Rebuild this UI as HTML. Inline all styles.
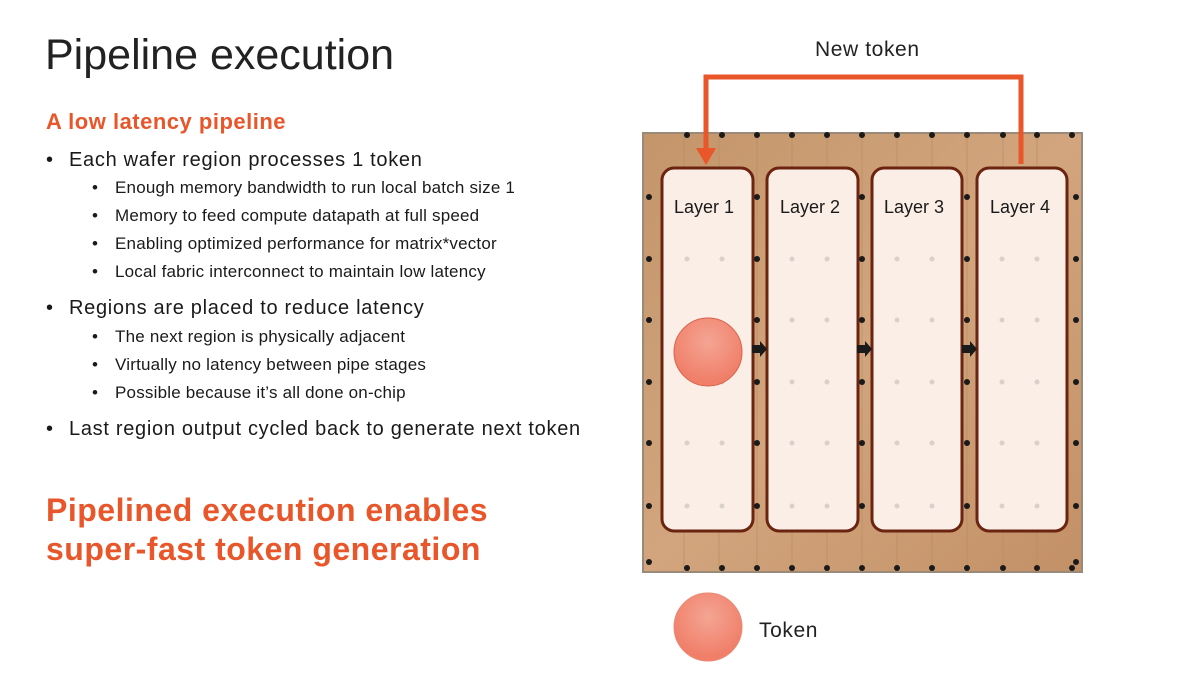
<!DOCTYPE html>
<html><head><meta charset="utf-8"><style>
body{margin:0;width:1200px;height:675px;background:#fff;position:relative;overflow:hidden;font-family:"Liberation Sans",sans-serif;color:#1a1a1a}
.t{position:absolute;white-space:nowrap;line-height:1}
.b1{font-size:20px;left:46px;letter-spacing:0.7px}
.b1 span,.b2 span{position:absolute;left:0}
.b1 b{font-weight:normal;margin-left:23px}
.b2 b{font-weight:normal;margin-left:23px}
.b2{font-size:17px;left:92px;letter-spacing:0.2px}
</style></head><body>
<div class="t" style="left:45px;top:34px;font-size:43px;color:#222">Pipeline execution</div>
<div class="t" style="left:46px;top:111px;font-size:22px;font-weight:bold;color:#e8562a;letter-spacing:0.5px">A low latency pipeline</div>
<div class="t b1" style="top:150px"><span>•</span><b>Each wafer region processes 1 token</b></div>
<div class="t b2" style="top:179px"><span>•</span><b>Enough memory bandwidth to run local batch size 1</b></div>
<div class="t b2" style="top:207px"><span>•</span><b>Memory to feed compute datapath at full speed</b></div>
<div class="t b2" style="top:235px"><span>•</span><b>Enabling optimized performance for matrix*vector</b></div>
<div class="t b2" style="top:263px"><span>•</span><b>Local fabric interconnect to maintain low latency</b></div>
<div class="t b1" style="top:298px"><span>•</span><b>Regions are placed to reduce latency</b></div>
<div class="t b2" style="top:328px"><span>•</span><b>The next region is physically adjacent</b></div>
<div class="t b2" style="top:356px"><span>•</span><b>Virtually no latency between pipe stages</b></div>
<div class="t b2" style="top:384px"><span>•</span><b>Possible because it’s all done on-chip</b></div>
<div class="t b1" style="top:419px"><span>•</span><b>Last region output cycled back to generate next token</b></div>
<div class="t" style="left:46px;top:491px;font-size:32px;font-weight:bold;color:#e8562a;line-height:39px;letter-spacing:0.5px">Pipelined execution enables<br>super-fast token generation</div>
<div class="t" style="left:815px;top:39px;font-size:21px;color:#222;letter-spacing:0.6px">New token</div>
<div class="t" style="left:759px;top:620px;font-size:21px;color:#222;letter-spacing:0.6px">Token</div>
<svg width="1200" height="675" style="position:absolute;left:0;top:0">
<defs><linearGradient id="w" x1="0" y1="0" x2="1" y2="1"><stop offset="0" stop-color="#c4956a"/><stop offset="0.5" stop-color="#d2a57e"/><stop offset="1" stop-color="#c39066"/></linearGradient>
<radialGradient id="tk" cx="0.5" cy="0.35" r="0.6"><stop offset="0" stop-color="#f4a594"/><stop offset="1" stop-color="#f07e68"/></radialGradient></defs>
<rect x="643" y="133" width="439" height="439" fill="url(#w)" stroke="#9a8a7a" stroke-width="2"/>
<g stroke="#b58a5e" stroke-width="1" opacity="0.6">
<line x1="684" y1="133" x2="684" y2="572"/><line x1="719" y1="133" x2="719" y2="572"/><line x1="757" y1="133" x2="757" y2="572"/><line x1="792" y1="133" x2="792" y2="572"/><line x1="827" y1="133" x2="827" y2="572"/><line x1="862" y1="133" x2="862" y2="572"/><line x1="897" y1="133" x2="897" y2="572"/><line x1="932" y1="133" x2="932" y2="572"/><line x1="967" y1="133" x2="967" y2="572"/><line x1="1003" y1="133" x2="1003" y2="572"/><line x1="1037" y1="133" x2="1037" y2="572"/>
</g>
<g stroke="#6b2410" stroke-width="3" fill="#fbeee6">
<rect x="662" y="168" width="91" height="363" rx="12"/>
<rect x="767" y="168" width="91" height="363" rx="12"/>
<rect x="872" y="168" width="90" height="363" rx="12"/>
<rect x="977" y="168" width="90" height="363" rx="12"/>
</g>
<g fill="#d8d0ca">
<circle cx="687" cy="259" r="2.5"/><circle cx="722" cy="259" r="2.5"/><circle cx="792" cy="259" r="2.5"/><circle cx="827" cy="259" r="2.5"/><circle cx="897" cy="259" r="2.5"/><circle cx="932" cy="259" r="2.5"/><circle cx="1002" cy="259" r="2.5"/><circle cx="1037" cy="259" r="2.5"/>
<circle cx="792" cy="320" r="2.5"/><circle cx="827" cy="320" r="2.5"/><circle cx="897" cy="320" r="2.5"/><circle cx="932" cy="320" r="2.5"/><circle cx="1002" cy="320" r="2.5"/><circle cx="1037" cy="320" r="2.5"/>
<circle cx="722" cy="382" r="2.5"/><circle cx="792" cy="382" r="2.5"/><circle cx="827" cy="382" r="2.5"/><circle cx="897" cy="382" r="2.5"/><circle cx="932" cy="382" r="2.5"/><circle cx="1002" cy="382" r="2.5"/><circle cx="1037" cy="382" r="2.5"/>
<circle cx="687" cy="443" r="2.5"/><circle cx="722" cy="443" r="2.5"/><circle cx="792" cy="443" r="2.5"/><circle cx="827" cy="443" r="2.5"/><circle cx="897" cy="443" r="2.5"/><circle cx="932" cy="443" r="2.5"/><circle cx="1002" cy="443" r="2.5"/><circle cx="1037" cy="443" r="2.5"/>
<circle cx="687" cy="506" r="2.5"/><circle cx="722" cy="506" r="2.5"/><circle cx="792" cy="506" r="2.5"/><circle cx="827" cy="506" r="2.5"/><circle cx="897" cy="506" r="2.5"/><circle cx="932" cy="506" r="2.5"/><circle cx="1002" cy="506" r="2.5"/><circle cx="1037" cy="506" r="2.5"/>
</g>
<g fill="#1a1a1a">
<circle cx="687" cy="135" r="3"/><circle cx="722" cy="135" r="3"/><circle cx="757" cy="135" r="3"/><circle cx="792" cy="135" r="3"/><circle cx="827" cy="135" r="3"/><circle cx="862" cy="135" r="3"/><circle cx="897" cy="135" r="3"/><circle cx="932" cy="135" r="3"/><circle cx="967" cy="135" r="3"/><circle cx="1003" cy="135" r="3"/><circle cx="1037" cy="135" r="3"/><circle cx="1072" cy="135" r="3"/>
<circle cx="687" cy="568" r="3"/><circle cx="722" cy="568" r="3"/><circle cx="757" cy="568" r="3"/><circle cx="792" cy="568" r="3"/><circle cx="827" cy="568" r="3"/><circle cx="862" cy="568" r="3"/><circle cx="897" cy="568" r="3"/><circle cx="932" cy="568" r="3"/><circle cx="967" cy="568" r="3"/><circle cx="1003" cy="568" r="3"/><circle cx="1037" cy="568" r="3"/><circle cx="1072" cy="568" r="3"/>
<circle cx="649" cy="197" r="3"/><circle cx="649" cy="259" r="3"/><circle cx="649" cy="320" r="3"/><circle cx="649" cy="382" r="3"/><circle cx="649" cy="443" r="3"/><circle cx="649" cy="506" r="3"/><circle cx="649" cy="562" r="3"/>
<circle cx="1076" cy="197" r="3"/><circle cx="1076" cy="259" r="3"/><circle cx="1076" cy="320" r="3"/><circle cx="1076" cy="382" r="3"/><circle cx="1076" cy="443" r="3"/><circle cx="1076" cy="506" r="3"/><circle cx="1076" cy="562" r="3"/>
<circle cx="757" cy="197" r="3"/><circle cx="757" cy="259" r="3"/><circle cx="757" cy="320" r="3"/><circle cx="757" cy="382" r="3"/><circle cx="757" cy="443" r="3"/><circle cx="757" cy="506" r="3"/>
<circle cx="862" cy="197" r="3"/><circle cx="862" cy="259" r="3"/><circle cx="862" cy="320" r="3"/><circle cx="862" cy="382" r="3"/><circle cx="862" cy="443" r="3"/><circle cx="862" cy="506" r="3"/>
<circle cx="967" cy="197" r="3"/><circle cx="967" cy="259" r="3"/><circle cx="967" cy="320" r="3"/><circle cx="967" cy="382" r="3"/><circle cx="967" cy="443" r="3"/><circle cx="967" cy="506" r="3"/>
<path d="M752 345h8v-4l7 8-7 8v-4h-8z"/><path d="M857 345h8v-4l7 8-7 8v-4h-8z"/><path d="M962 345h8v-4l7 8-7 8v-4h-8z"/>
</g>
<g font-family="Liberation Sans, sans-serif" font-size="18" fill="#1a1a1a" text-anchor="middle">
<text x="704" y="213">Layer 1</text><text x="810" y="213">Layer 2</text><text x="914" y="213">Layer 3</text><text x="1020" y="213">Layer 4</text>
</g>
<circle cx="708" cy="352" r="34" fill="url(#tk)" stroke="#d8634a" stroke-width="1"/>
<circle cx="708" cy="627" r="34" fill="url(#tk)" stroke="#ea8a74" stroke-width="1"/>
<path d="M1021 164V77H706V150" fill="none" stroke="#e8562a" stroke-width="5"/>
<path d="M696 148h20l-10 17z" fill="#e8562a"/>
</svg>
</body></html>
